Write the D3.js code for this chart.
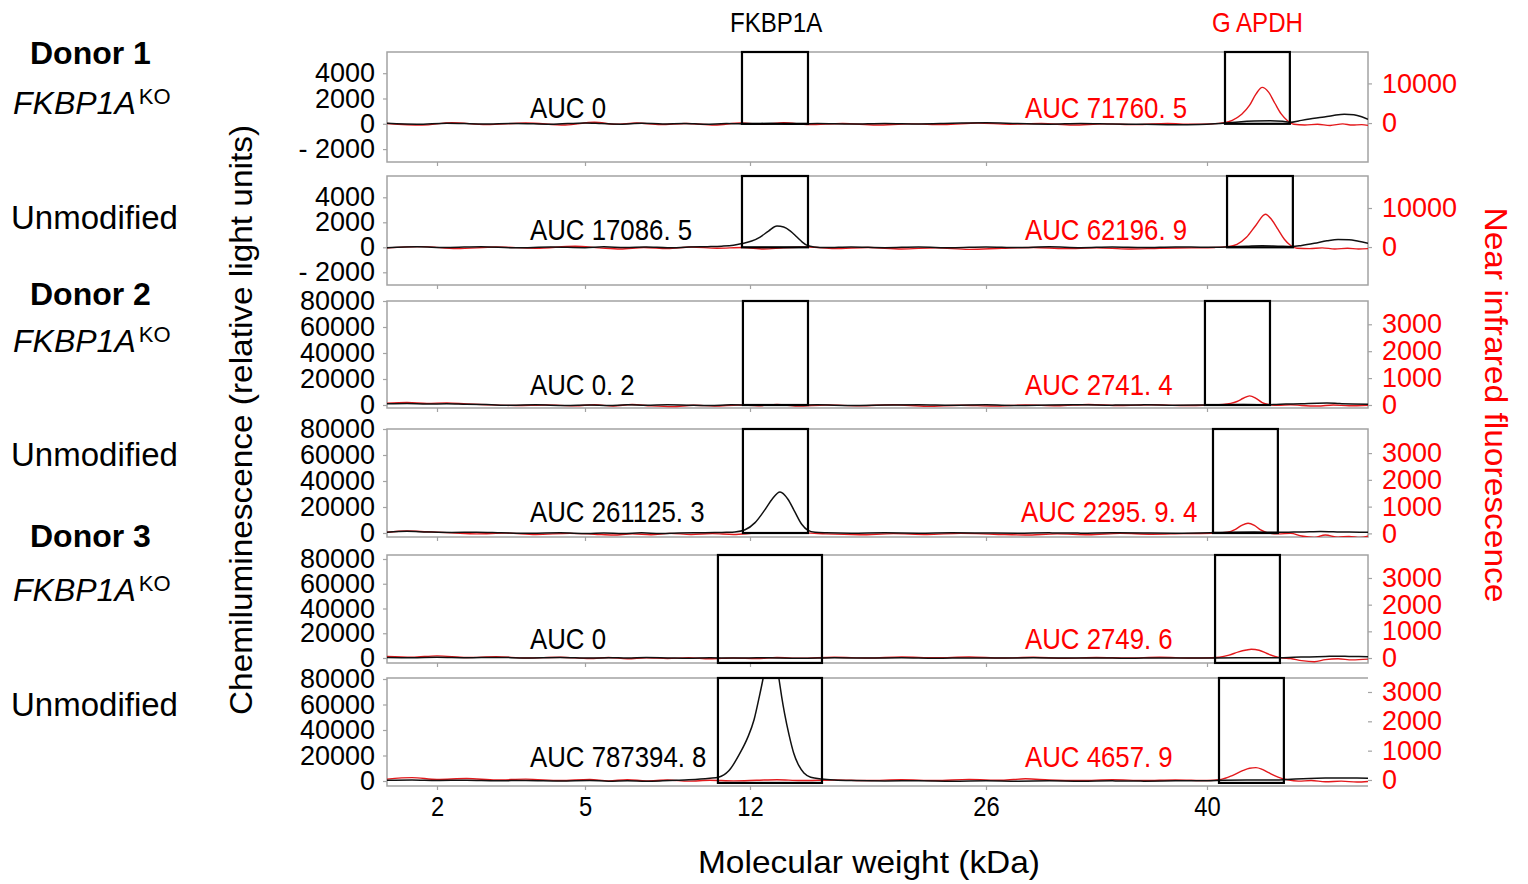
<!DOCTYPE html>
<html>
<head>
<meta charset="utf-8">
<script src="https://d3js.org/d3.v7.min.js"></script>
<style>
  body { margin: 0; background: #fff; }
  text { font-family: "Liberation Sans", Arial, sans-serif; }
  .frame { fill: none; stroke: #a3a3a3; stroke-width: 1.5; }
  .win { fill: none; stroke: #000; stroke-width: 2.2; }
  .axis path { display: none; }
  .axis line { stroke: #a3a3a3; stroke-width: 1.2; }
  .axis text { font-size: 27px; font-family: "Liberation Sans", Arial, sans-serif; }
  .chemi { fill: none; stroke: #111; stroke-width: 1.5; }
  .fluor { fill: none; stroke: #e3191c; stroke-width: 1.4; }
</style>
</head>
<body>
<script>
// ---- data ----
var mwTicks = [2, 5, 12, 26, 40];
var targets = ['FKBP1A', 'G APDH'];
var donors = ['Donor 1', 'Donor 2', 'Donor 3'];
var samples = ['KO', 'Unmodified', 'KO', 'Unmodified', 'KO', 'Unmodified'];

var chemiTicks = [
  [-2000, 0, 2000, 4000], [-2000, 0, 2000, 4000],
  [0, 20000, 40000, 60000, 80000], [0, 20000, 40000, 60000, 80000],
  [0, 20000, 40000, 60000, 80000], [0, 20000, 40000, 60000, 80000]
];
var fluorTicks = [
  [0, 10000], [0, 10000],
  [0, 1000, 2000, 3000], [0, 1000, 2000, 3000],
  [0, 1000, 2000, 3000], [0, 1000, 2000, 3000]
];

var aucChemi = ['AUC 0', 'AUC 17086. 5', 'AUC 0. 2', 'AUC 261125. 3', 'AUC 0', 'AUC 787394. 8'];
var aucFluor = ['AUC 71760. 5', 'AUC 62196. 9', 'AUC 2741. 4', 'AUC 2295. 9. 4', 'AUC 2749. 6', 'AUC 4657. 9'];

// integration windows (kDa)
var fkbpWin = [[11.66, 15.44], [11.66, 15.44], [11.7, 15.44], [11.7, 15.44], [10.64, 16.27], [10.64, 16.27]];
var gapdhWin = [[41.14, 45.25], [41.27, 45.44], [39.87, 43.99], [40.38, 44.49], [40.51, 44.62], [40.76, 44.87]];

// chemiluminescence traces [kDa, RLU]
var chemi = [
  [[1,40],[1.6,-30],[2.2,50],[2.9,-20],[3.6,30],[4.3,-40],[5,70],[5.7,20],[6.5,-30],[7.4,40],[8.3,-10],[9.2,30],[10.1,-40],[11,20],[12,-20],[13.2,30],[14.5,-30],[16,20],[18,-20],[20,30],[22,-10],[24,40],[26,80],[28,20],[30,-30],[32,20],[34,-20],[36,-40],[38,-70],[39.5,-50],[40.5,0],[41.2,60],[42,150],[43,220],[44,240],[44.8,200],[45.3,120],[45.8,230],[46.5,380],[47.3,520],[48,660],[48.7,760],[49.3,720],[49.8,560],[50.2,350]],
  [[1,-30],[1.6,40],[2.2,-20],[2.9,50],[3.6,-40],[4.3,20],[5,-30],[5.8,40],[6.7,-20],[7.6,30],[8.5,-40],[9.4,20],[10.2,50],[10.8,90],[11.3,170],[11.66,300],[12.1,500],[12.6,820],[13.1,1300],[13.6,1700],[14.0,1620],[14.4,1300],[14.8,800],[15.1,420],[15.4,150],[15.8,30],[16.5,-20],[18,30],[20,-30],[22,20],[24,-40],[26,30],[28,-20],[30,40],[32,-30],[34,20],[36,-20],[38,30],[40,0],[41.5,40],[42.5,80],[43.5,120],[44.5,90],[45.4,60],[46,150],[46.8,320],[47.6,520],[48.3,630],[49,610],[49.6,480],[50.2,320]],
  [[1,900],[1.4,1200],[1.8,700],[2.2,900],[2.6,500],[3,300],[3.5,-200],[4,100],[4.6,-300],[5.2,0],[6,-400],[6.8,100],[7.6,-200],[8.5,200],[9.4,-100],[10.3,-300],[11.2,100],[12.2,-200],[13.3,200],[14.5,-100],[16,100],[18,-300],[20,0],[22,200],[24,-200],[26,100],[28,-300],[30,0],[32,200],[34,-100],[36,100],[38,-200],[39.9,0],[41,200],[42.3,300],[43.5,200],[44.2,300],[45,700],[46,1000],[47,1400],[47.6,1500],[48.4,1100],[49.2,800],[50.2,600]],
  [[1,600],[1.4,1300],[1.8,800],[2.3,400],[2.8,600],[3.3,200],[3.9,-200],[4.5,100],[5.1,-300],[5.8,0],[6.6,-400],[7.4,100],[8.2,-300],[9,0],[9.8,200],[10.5,300],[11,500],[11.36,800],[11.79,2500],[12.3,8000],[12.89,18000],[13.31,26000],[13.78,31500],[14.25,26000],[14.67,16000],[15.08,6500],[15.44,2000],[15.86,500],[16.5,100],[18,-200],[20,100],[22,-100],[24,200],[26,0],[28,-200],[30,100],[32,-100],[34,200],[36,0],[38,-100],[40.4,300],[41.5,600],[43,700],[44.5,500],[45.5,700],[46.5,900],[47.2,1100],[48,900],[49,700],[50.2,500]],
  [[1,500],[1.5,300],[2,600],[2.6,200],[3.2,500],[3.8,100],[4.5,400],[5.2,-100],[6,300],[6.8,0],[7.6,400],[8.5,100],[9.4,-200],[10.3,200],[11.3,-100],[12.4,300],[13.6,0],[15,-200],[17,200],[19,-100],[21,200],[23,-200],[25,100],[27,-100],[29,200],[31,-100],[33,100],[35,-200],[37,100],[39,-100],[40.5,0],[42,200],[43.5,300],[44.6,300],[45.5,600],[46.5,900],[47.5,1200],[48.2,1500],[49,1300],[50.2,1000]],
  [[1,500],[1.5,800],[2,400],[2.6,600],[3.2,200],[3.8,400],[4.5,0],[5.2,300],[6,-100],[6.8,200],[7.6,-200],[8.3,100],[8.9,500],[9.4,900],[9.9,1500],[10.3,2200],[10.66,3000],[11.1,8000],[11.58,22000],[11.9,34000],[12.24,48000],[12.55,66000],[12.77,80000],[13.0,97000],[13.25,104000],[13.5,97000],[13.72,80000],[13.88,66000],[14.05,53000],[14.32,36000],[14.59,22000],[14.9,12000],[15.2,6300],[15.6,3000],[16.27,1600],[17,800],[18,300],[20,0],[22,200],[24,-100],[26,200],[28,-100],[30,100],[32,-200],[34,100],[36,-100],[38,100],[40,200],[41,500],[42.5,700],[44,800],[44.9,1000],[45.6,1500],[46.5,2000],[47.5,2300],[48.5,2400],[49.5,2300],[50.2,2100]]
];

// near infrared fluorescence traces [kDa, units]
var fluor = [
  [[1,-100],[1.7,-500],[2.3,100],[3,-400],[3.8,0],[4.6,-500],[5.4,200],[6.3,-300],[7.2,0],[8.2,-400],[9.3,-100],[10.5,-500],[11.6,0],[12.8,-300],[14,100],[15.5,-400],[17.5,-100],[19.5,-500],[21.5,-200],[23.5,-400],[25.5,0],[27.5,-300],[29.5,-100],[31.5,-500],[33.5,-200],[35.5,-400],[37.5,-100],[39,-300],[40.3,-200],[41.1,100],[41.6,700],[42.2,2200],[42.7,4500],[43.1,7300],[43.5,9000],[43.9,7800],[44.3,5000],[44.7,2300],[45.1,600],[45.5,-300],[46.2,-500],[47,-300],[47.8,-600],[48.6,-200],[49.2,-500],[49.8,-400],[50.2,-600]],
  [[1,-200],[1.7,100],[2.4,-400],[3.2,0],[4,-300],[4.8,200],[5.6,-200],[6.5,-500],[7.5,-100],[8.5,-400],[9.5,0],[10.6,-300],[11.7,-100],[12.8,-500],[14,-200],[15.5,0],[17,-400],[19,-100],[21,-500],[23,-200],[25,-600],[27,-300],[29,-100],[31,-400],[33,-200],[35,-500],[37,-300],[39,-200],[40.5,-100],[41.3,100],[41.9,700],[42.5,2500],[43.1,5600],[43.7,8400],[44.1,7000],[44.5,4500],[44.9,2000],[45.3,400],[45.7,-300],[46.5,-400],[47.3,-200],[48.1,-500],[48.9,-300],[49.6,-500],[50.2,-400]],
  [[1,70],[1.4,90],[1.8,60],[2.2,80],[2.6,40],[3,10],[3.6,-20],[4.2,0],[4.8,-30],[5.4,10],[6.2,-40],[7,20],[7.8,-30],[8.7,-60],[9.6,-10],[10.5,-40],[11.5,0],[12.5,-30],[13.6,20],[14.8,-40],[16.5,0],[18.5,-30],[20.5,10],[22.5,-50],[24.5,-10],[26.5,-40],[28.5,0],[30.5,-30],[32.5,20],[34.5,-20],[36.5,10],[38.5,-20],[40.2,0],[41,20],[41.5,60],[41.9,130],[42.3,250],[42.7,340],[43.1,250],[43.5,90],[43.9,20],[44.5,-10],[45.3,10],[46,-20],[47,-40],[48,0],[49,-30],[50.2,-10]],
  [[1,40],[1.4,90],[1.8,60],[2.3,20],[2.8,-20],[3.4,10],[4,-40],[4.7,0],[5.4,-30],[6.2,-60],[7,-20],[7.8,-50],[8.6,0],[9.5,-40],[10.4,-10],[11.3,-40],[12.3,10],[13.3,30],[14.3,0],[15.3,20],[16.5,-20],[18.5,-50],[20.5,-10],[22.5,-40],[24.5,0],[26.5,-30],[28.5,-60],[30.5,-20],[32.5,-50],[34.5,0],[36.5,-30],[38.5,-10],[40.3,0],[41.3,40],[41.8,150],[42.2,300],[42.6,380],[43,300],[43.4,130],[43.8,30],[44.5,-20],[45.3,0],[46,-100],[46.8,-150],[47.5,-60],[48.3,-140],[49,-110],[49.7,-150],[50.2,-100]],
  [[1,60],[1.5,30],[2,80],[2.6,20],[3.2,50],[3.8,0],[4.5,30],[5.2,-20],[6,20],[6.8,-30],[7.6,10],[8.5,-20],[9.4,10],[10.3,-30],[11.3,0],[12.4,-20],[13.6,20],[15,-10],[17,30],[19,0],[21,40],[23,10],[25,40],[27,0],[29,30],[31,-10],[33,20],[35,0],[37,30],[39,0],[40.3,10],[40.8,30],[41.4,110],[42,230],[42.5,300],[42.8,330],[43.3,290],[43.8,170],[44.3,60],[44.7,10],[45.3,-20],[46,-100],[46.8,-140],[47.5,-60],[48.3,-30],[49.2,-70],[50.2,-40]],
  [[1,30],[1.5,80],[2,20],[2.6,50],[3.2,0],[3.8,30],[4.5,-20],[5.2,20],[6,-30],[6.8,10],[7.6,-30],[8.5,0],[9.4,-40],[10.3,-10],[11.3,-30],[12.4,-10],[13.6,10],[15,-20],[17,0],[19,-20],[21,10],[23,-20],[25,20],[27,-10],[28.5,40],[30,0],[32,-20],[34,10],[36,-20],[38,0],[40,-20],[40.9,20],[41.6,150],[42.3,330],[42.7,400],[43.1,420],[43.5,360],[43.9,250],[44.5,100],[45.1,10],[45.8,-40],[46.6,-20],[47.5,-60],[48.5,-40],[49.5,-70],[50.2,-50]]
];

// ---- layout ----
var W = 1528, H = 884;
var panels = [
  {top: 52,  bottom: 162, chemiDom: [-3020, 5676],  fluorDom: [-9825, 17925], boxTo: 0,     aucY: 108},
  {top: 176, bottom: 285, chemiDom: [-3016, 5704],  fluorDom: [-9721, 18198], boxTo: 0,     aucY: 230},
  {top: 301, bottom: 408, chemiDom: [-2308, 80000], fluorDom: [-112, 3866],   boxTo: 0,     aucY: 385},
  {top: 429, bottom: 537, chemiDom: [-3077, 80000], fluorDom: [-135, 3900],   boxTo: 0,     aucY: 512},
  {top: 555, bottom: 663, chemiDom: [-4040, 83232], fluorDom: [-187, 3862],   boxTo: -4000, aucY: 639},
  {top: 678, bottom: 786, chemiDom: [-3922, 80784], fluorDom: [-205, 3477],   boxTo: -1500, aucY: 757, openRight: true}
];
var donorY = [53, 294, 536];
var sampleY = [103, 218, 341, 455, 590, 705];

var svg = d3.select('body').append('svg').attr('width', W).attr('height', H);
svg.append('rect').attr('width', W).attr('height', H).attr('fill', '#fff');

// non-linear MW calibration of the capillary
var x = d3.scaleLinear()
  .domain([1, 2, 5, 12, 26, 40, 50.2])
  .range([387, 437, 585, 750, 986, 1207, 1368]);
var x0 = x.range()[0], x1 = x.range()[6];

function squeeze(sel, k) {
  sel.each(function() {
    var len = this.getComputedTextLength();
    d3.select(this).attr('textLength', len * k).attr('lengthAdjust', 'spacingAndGlyphs');
  });
}
function fmt(d) { return d < 0 ? '- ' + Math.abs(d) : String(d); }

var defs = svg.append('defs');

panels.forEach(function(p, i) {
  var yc = d3.scaleLinear().domain(p.chemiDom).range([p.bottom, p.top]);
  var yf = d3.scaleLinear().domain(p.fluorDom).range([p.bottom, p.top]);
  var g = svg.append('g');

  defs.append('clipPath').attr('id', 'clip' + i).append('rect')
    .attr('x', x0).attr('y', p.top).attr('width', x1 - x0).attr('height', p.bottom - p.top);

  // frame
  if (p.openRight) {
    g.append('path').attr('class', 'frame')
      .attr('d', 'M' + x1 + ',' + p.top + 'H' + x0 + 'V' + p.bottom + 'H' + x1);
  } else {
    g.append('rect').attr('class', 'frame')
      .attr('x', x0).attr('y', p.top).attr('width', x1 - x0).attr('height', p.bottom - p.top);
  }

  // axes
  g.append('g').attr('class', 'axis').attr('transform', 'translate(' + x0 + ',0)')
    .call(d3.axisLeft(yc).tickValues(chemiTicks[i]).tickSize(4).tickPadding(8).tickFormat(fmt))
    .selectAll('text').attr('fill', '#000');
  g.append('g').attr('class', 'axis').attr('transform', 'translate(' + x1 + ',0)')
    .call(d3.axisRight(yf).tickValues(fluorTicks[i]).tickSize(4).tickPadding(10).tickFormat(d3.format('d')))
    .selectAll('text').attr('fill', '#f00');

  var last = i === panels.length - 1;
  var xa = g.append('g').attr('class', 'axis').attr('transform', 'translate(0,' + p.bottom + ')')
    .call(d3.axisBottom(x).tickValues(mwTicks).tickSize(4).tickPadding(7)
      .tickFormat(last ? d3.format('d') : ''));
  xa.selectAll('text').attr('fill', '#000');
  if (last) squeeze(xa.selectAll('text'), 0.88);

  // traces
  var plot = g.append('g').attr('clip-path', 'url(#clip' + i + ')');
  plot.append('path').attr('class', 'fluor')
    .attr('d', d3.line().x(function(d) { return x(d[0]); }).y(function(d) { return yf(d[1]); })
      .curve(d3.curveMonotoneX)(fluor[i]));
  plot.append('path').attr('class', 'chemi')
    .attr('d', d3.line().x(function(d) { return x(d[0]); }).y(function(d) { return yc(d[1]); })
      .curve(d3.curveMonotoneX)(chemi[i]));

  // integration windows
  [fkbpWin[i], gapdhWin[i]].forEach(function(w) {
    g.append('rect').attr('class', 'win')
      .attr('x', x(w[0])).attr('y', p.top)
      .attr('width', x(w[1]) - x(w[0])).attr('height', yc(p.boxTo) - p.top);
  });

  // AUC labels
  var a1 = g.append('text').attr('x', 530).attr('y', p.aucY + 10)
    .attr('font-size', 30).attr('fill', '#000').text(aucChemi[i]);
  var a2 = g.append('text').attr('x', i === 3 ? 1021 : 1025).attr('y', p.aucY + 10)
    .attr('font-size', 30).attr('fill', '#f00').text(aucFluor[i]);
  squeeze(a1, 0.86);
  squeeze(a2, 0.86);
});

// target titles over the first panel's windows
[fkbpWin[0], gapdhWin[0]].forEach(function(w, j) {
  var t = svg.append('text').attr('x', x((w[0] + w[1]) / 2)).attr('y', 32)
    .attr('text-anchor', 'middle').attr('font-size', 28)
    .attr('fill', j === 0 ? '#000' : '#f00').text(targets[j]);
  squeeze(t, 0.86);
});

// row labels
donors.forEach(function(d, j) {
  svg.append('text').attr('x', 30).attr('y', donorY[j] + 11)
    .attr('font-size', 32).attr('font-weight', 'bold').text(d);
});
samples.forEach(function(s, j) {
  var t = svg.append('text').attr('y', sampleY[j] + 11).attr('font-size', 33);
  if (s === 'KO') {
    t.attr('x', 13).attr('font-size', 32);
    t.append('tspan').attr('font-style', 'italic').text('FKBP1A');
    t.append('tspan').attr('font-size', 22).attr('dy', -10).attr('dx', 3).text('KO');
  } else {
    t.attr('x', 11).text(s);
  }
});

// axis titles
svg.append('text').attr('transform', 'translate(252,420) rotate(-90)')
  .attr('text-anchor', 'middle').attr('font-size', 32)
  .attr('textLength', 590).attr('lengthAdjust', 'spacingAndGlyphs')
  .text('Chemiluminescence (relative light units)');
svg.append('text').attr('transform', 'translate(1485,405) rotate(90)')
  .attr('text-anchor', 'middle').attr('font-size', 32).attr('fill', '#f00')
  .attr('textLength', 395).attr('lengthAdjust', 'spacingAndGlyphs')
  .text('Near infrared fluorescence');
svg.append('text').attr('x', 869).attr('y', 873)
  .attr('text-anchor', 'middle').attr('font-size', 32)
  .attr('textLength', 342).attr('lengthAdjust', 'spacingAndGlyphs')
  .text('Molecular weight (kDa)');
</script>
</body>
</html>
